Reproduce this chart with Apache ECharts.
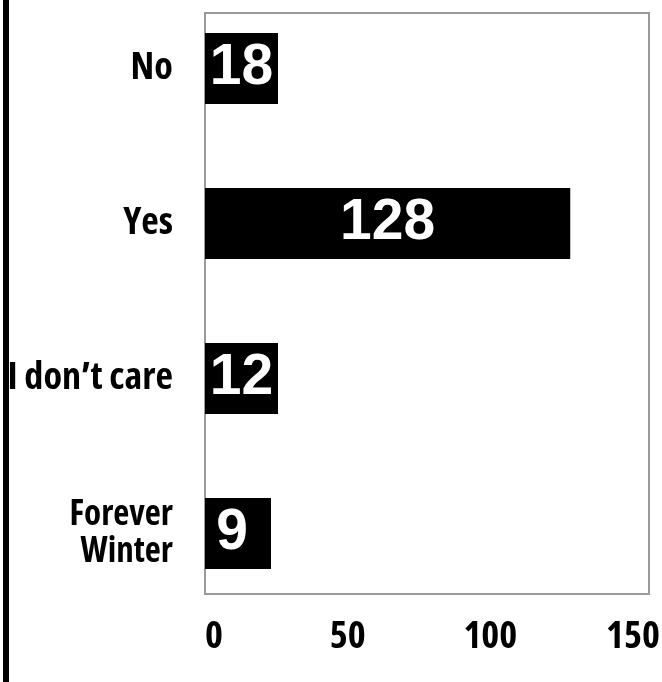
<!DOCTYPE html>
<html>
<head>
<meta charset="utf-8">
<script src="https://cdn.jsdelivr.net/npm/echarts@6/dist/echarts.min.js"></script>
<style>
html,body{margin:0;padding:0;background:#fff;}
#chart{width:662px;height:682px;}
</style>
</head>
<body>
<div id="chart"></div>
<script>
const categories = ['No', 'Yes', 'I don\u2019t care', 'Forever\nWinter'];
const values = [18, 128, 12, 9];
const xTicks = [0, 50, 100, 150];

// choose the narrowest installed bold condensed face
const mctx = document.createElement('canvas').getContext('2d');
function measure(font, txt) {
  mctx.font = '10px monospace';
  mctx.font = font;
  if (mctx.font.indexOf('monospace') === 0 || mctx.font === '10px monospace') return Infinity;
  return mctx.measureText(txt).width;
}
const candidates = [
  ["'Noto Sans'", 'bold extra-condensed'],
  ["'Noto Sans'", 'bold condensed'],
  ["'Noto Sans'", 'bold semi-condensed'],
  ["'Open Sans'", 'bold condensed'],
  ["'DejaVu Sans Condensed'", 'bold']
];
const probe = 'I don\u2019t care';
let fam = candidates[candidates.length - 1][0], weight = 'bold', best = Infinity;
for (const [f, wgt] of candidates) {
  const wd = measure(wgt + ' 100px ' + f, probe);
  if (wd < best - 0.5) { best = wd; fam = f; weight = wgt; }
}
const condensed = fam + ', sans-serif';
function fitSize(txt, target, cap) {
  const wd = measure(weight + ' 100px ' + condensed, txt);
  return Math.min(cap, Math.floor(target * 100 / wd * 10) / 10);
}
const catSize = fitSize('I don\u2019t care', 166, 41);
const smallSize = fitSize('Forever', 105, 35);
const tickSize = fitSize('100', 54, 41);

const AXIS_MAX = 155.6;
const chart = echarts.init(document.getElementById('chart'));

function labelFor(v) {
  if (v >= 100) return { position: 'inside', formatter: '{c}' };
  return { position: 'insideLeft', distance: 0, formatter: v < 10 ? '{n|{c}}' : '{w|{c}}' };
}

const boxStyle = {
  color: '#fff', fontFamily: "'Liberation Sans', Arial, sans-serif", fontWeight: 'bold', fontSize: 57,
  backgroundColor: '#000', height: 71, lineHeight: 71, align: 'center', verticalAlign: 'middle'
};

const option = {
  animation: false,
  backgroundColor: '#fff',
  graphic: [
    { type: 'rect', shape: { x: 3, y: 0, width: 6, height: 682 }, style: { fill: '#000' } }
  ],
  grid: [
    { left: 205, right: 13, top: 13, bottom: 88, outerBoundsMode: 'none', containLabel: false,
      show: true, borderColor: '#9a9a9a', borderWidth: 2, backgroundColor: 'transparent' },
    { left: 205, right: 13, top: -9, height: 620, outerBoundsMode: 'none', containLabel: false }
  ],
  xAxis: [
    {
      gridIndex: 0, type: 'value', min: 0, max: AXIS_MAX, interval: 50,
      axisLine: { show: false }, axisTick: { show: false }, splitLine: { show: false },
      axisLabel: {
        showMaxLabel: false,
        alignMinLabel: 'left',
        margin: 24,
        color: '#000', fontFamily: condensed, fontWeight: weight, fontSize: tickSize,
        formatter: v => xTicks.includes(v) ? String(v) : ''
      }
    },
    { gridIndex: 1, type: 'value', min: 0, max: AXIS_MAX, show: false }
  ],
  yAxis: [
    { gridIndex: 0, type: 'category', data: categories, show: false, inverse: true },
    {
      gridIndex: 1, type: 'category', data: categories, inverse: true,
      axisLine: { show: false }, axisTick: { show: false }, splitLine: { show: false },
      axisLabel: {
        margin: 32,
        color: '#000', fontFamily: condensed, fontWeight: weight, fontSize: catSize,
        formatter: v => v.includes('\n') ? v.split('\n').map(s => '{s|' + s + '}').join('\n') : v,
        rich: {
          s: { fontFamily: condensed, fontWeight: weight, fontSize: smallSize, lineHeight: 37, color: '#000', align: 'right' }
        }
      }
    }
  ],
  series: [
    {
      type: 'bar',
      xAxisIndex: 1, yAxisIndex: 1,
      barWidth: 71,
      itemStyle: { color: '#000' },
      label: {
        show: true,
        color: '#fff',
        fontFamily: "'Liberation Sans', Arial, sans-serif",
        fontWeight: 'bold',
        fontSize: 57,
        rich: {
          w: Object.assign({ width: 73 }, boxStyle),
          n: Object.assign({ width: 54, padding: [0, 12, 0, 0] }, boxStyle)
        }
      },
      data: values.map(v => ({ value: v, label: labelFor(v) }))
    }
  ]
};

chart.setOption(option);
</script>
</body>
</html>
